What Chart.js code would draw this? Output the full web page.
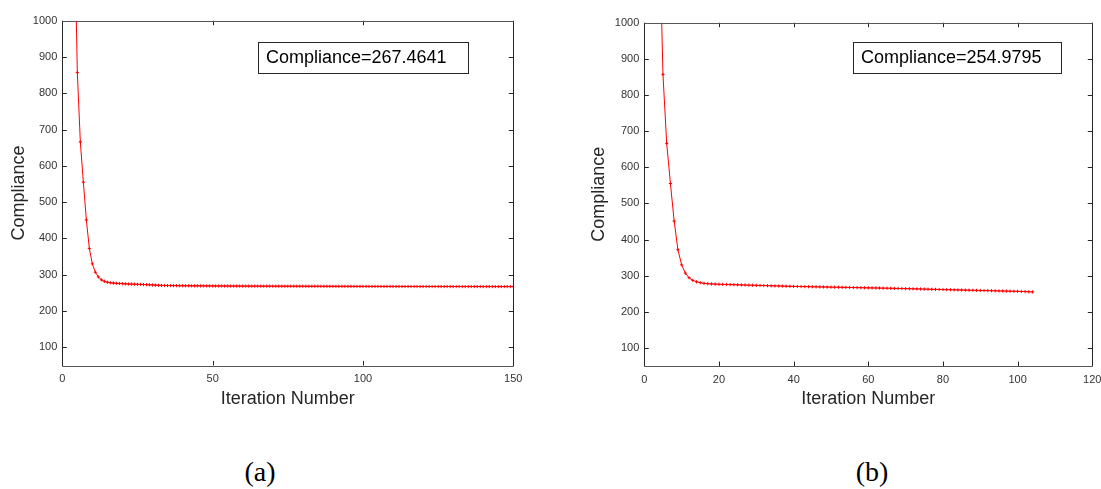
<!DOCTYPE html>
<html><head><meta charset="utf-8">
<script src="https://cdn.jsdelivr.net/npm/chart.js@4.4.0/dist/chart.umd.min.js"></script>
<style>
html,body{margin:0;padding:0;background:#fff;overflow:hidden;width:1101px;height:489px;}
#wrap{position:relative;width:1101px;height:489px;overflow:hidden;}
canvas{position:absolute;top:0;}
#c1{left:0;}
#c2{left:580px;}
.lab{position:absolute;top:455px;font-family:"Liberation Serif","Times New Roman",serif;font-size:28px;line-height:34px;color:#000;transform:translateX(-50%);}
</style></head>
<body>
<div id="wrap">
<canvas id="c1" width="560" height="420"></canvas>
<canvas id="c2" width="540" height="420"></canvas>
<div class="lab" style="left:260px;">(a)</div>
<div class="lab" style="left:872px;">(b)</div>
</div>
<script>
// ---- data ----
const complianceA = [
 3600, 2400, 1700, 1280, 857, 666, 555, 451, 372, 330,
 307, 294, 286, 282, 279.5, 278, 277.2, 276.5, 275.9, 275.4,
 275.0, 274.6, 274.3, 274.0, 273.7, 273.4, 273.1, 272.8, 272.4, 271.9,
 271.4, 271.0, 270.7, 270.5, 270.3, 270.2, 270.1, 270.0, 269.9, 269.8,
 269.7, 269.6, 269.55, 269.5, 269.45, 269.4, 269.35, 269.3, 269.25, 269.2,
 269.15, 269.1, 269.06, 269.02, 268.98, 268.94, 268.9, 268.87, 268.84, 268.81,
 268.78, 268.75, 268.72, 268.69, 268.66, 268.63, 268.6, 268.58, 268.56, 268.54,
 268.52, 268.5, 268.48, 268.46, 268.44, 268.42, 268.4, 268.38, 268.36, 268.34,
 268.32, 268.3, 268.28, 268.26, 268.24, 268.22, 268.2, 268.18, 268.16, 268.14,
 268.12, 268.1, 268.08, 268.06, 268.04, 268.02, 268.0, 267.98, 267.96, 267.94,
 267.92, 267.9, 267.88, 267.86, 267.85, 267.84, 267.83, 267.82, 267.81, 267.8,
 267.79, 267.78, 267.77, 267.76, 267.75, 267.74, 267.73, 267.72, 267.71, 267.7,
 267.69, 267.68, 267.67, 267.66, 267.65, 267.64, 267.63, 267.62, 267.61, 267.6,
 267.59, 267.58, 267.57, 267.56, 267.55, 267.54, 267.53, 267.52, 267.51, 267.5,
 267.5, 267.49, 267.49, 267.48, 267.48, 267.48, 267.47, 267.47, 267.47, 267.4641
];
const complianceB = [
 3600, 2400, 1700, 1280, 857, 666, 555, 451, 372, 330,
 307, 294, 287, 283, 280.5, 278.8, 277.8, 277.1, 276.6, 276.2,
 275.9, 275.6, 275.3, 275.0, 274.7, 274.4, 274.1, 273.8, 273.5, 273.2,
 272.9, 272.6, 272.3, 272.0, 271.7, 271.4, 271.1, 270.8, 270.5, 270.3,
 270.1, 269.9, 269.7, 269.5, 269.3, 269.1, 268.9, 268.7, 268.5, 268.3,
 268.1, 267.9, 267.7, 267.5, 267.3, 267.1, 266.9, 266.7, 266.5, 266.3,
 266.1, 265.9, 265.7, 265.5, 265.3, 265.05, 264.8, 264.55, 264.3, 264.05,
 263.8, 263.55, 263.3, 263.05, 262.8, 262.55, 262.3, 262.05, 261.8, 261.55,
 261.3, 261.05, 260.8, 260.55, 260.3, 260.05, 259.8, 259.55, 259.3, 259.05,
 258.8, 258.55, 258.3, 258.05, 257.8, 257.55, 257.3, 257.05, 256.8, 256.55,
 256.3, 255.9, 255.4, 254.9795
];
const xTicksA = [0, 50, 100, 150];
const xTicksB = [0, 20, 40, 60, 80, 100, 120];
const yTicks = [100, 200, 300, 400, 500, 600, 700, 800, 900, 1000];
const yRange = [50, 1000];
const boxTextA = 'Compliance=267.4641';
const boxTextB = 'Compliance=254.9795';
const yTitle = 'Compliance';
const xTitle = 'Iteration Number';

const SANS = '"Liberation Sans", Arial, Helvetica, sans-serif';

const framePlugin = {
  id: 'frame',
  afterDraw(chart) {
    const ctx = chart.ctx;
    const {left, right, top, bottom} = chart.chartArea;
    const xs = chart.scales.x, ys = chart.scales.y;
    const o = chart.options.plugins.frame;
    ctx.save();
    ctx.lineWidth = 1;
    ctx.strokeStyle = '#262626';
    const tl = 4.5;
    ctx.beginPath();
    xs.ticks.forEach(t => {
      const px = Math.round(xs.getPixelForValue(t.value)) + 0.5;
      ctx.moveTo(px, bottom); ctx.lineTo(px, bottom - tl);
      ctx.moveTo(px, top); ctx.lineTo(px, top + tl);
    });
    ys.ticks.forEach(t => {
      const py = Math.round(ys.getPixelForValue(t.value)) + 0.5;
      ctx.moveTo(left, py); ctx.lineTo(left + tl, py);
      ctx.moveTo(right, py); ctx.lineTo(right - tl, py);
    });
    ctx.stroke();
    const L = Math.round(left) + 0.5, R = Math.round(right) + 0.5, T = Math.round(top) + 0.5, B = Math.round(bottom) + 0.5;
    ctx.strokeStyle = '#262626';
    ctx.beginPath(); ctx.moveTo(L, T); ctx.lineTo(L, B); ctx.moveTo(R, T); ctx.lineTo(R, B); ctx.stroke();
    ctx.strokeStyle = '#555';
    ctx.beginPath(); ctx.moveTo(L, T); ctx.lineTo(R, T); ctx.moveTo(L, B); ctx.lineTo(R, B); ctx.stroke();
    const b = o.box;
    ctx.fillStyle = '#fff';
    ctx.fillRect(b.x, b.y, b.w, b.h);
    ctx.strokeStyle = '#262626';
    ctx.strokeRect(b.x + 0.5, b.y + 0.5, b.w, b.h);
    ctx.fillStyle = '#000';
    ctx.font = '18px ' + SANS;
    ctx.textBaseline = 'middle';
    ctx.textAlign = 'left';
    ctx.fillText(o.text, b.x + 8, b.y + b.h / 2 + 1);
    ctx.restore();
  }
};

function makeChart(id, values, xMax, xTicks, g, text) {
  const pts = values.map((v, i) => ({x: i + 1, y: v}));
  return new Chart(document.getElementById(id), {
    type: 'line',
    data: { datasets: [{
      data: pts,
      borderColor: '#ff0000',
      borderWidth: 1,
      pointStyle: 'cross',
      pointRadius: 1.6,
      pointBorderWidth: 1,
      pointBorderColor: '#ff0000',
      pointBackgroundColor: '#ff0000',
      tension: 0,
      fill: false,
      clip: 0
    }]},
    options: {
      responsive: false,
      animation: false,
      events: [],
      layout: { padding: { left: 0, right: g.padR, top: g.padT, bottom: 0 } },
      plugins: {
        legend: { display: false },
        tooltip: { enabled: false },
        frame: { box: g.box, text: text }
      },
      scales: {
        x: {
          type: 'linear', min: 0, max: xMax,
          afterBuildTicks: s => { s.ticks = xTicks.map(v => ({value: v})); },
          afterFit: s => { s.height = g.xH; },
          grid: { display: false, drawTicks: false },
          border: { display: false },
          ticks: { font: { family: SANS, size: 11 }, color: '#333', padding: 7, maxRotation: 0, callback: v => String(v) },
          title: { display: true, text: xTitle, font: { family: SANS, size: 18 }, color: '#262626', padding: { top: 0, bottom: 10 } }
        },
        y: {
          type: 'linear', min: yRange[0], max: yRange[1],
          afterBuildTicks: s => { s.ticks = yTicks.map(v => ({value: v})); },
          afterFit: s => { s.width = g.yW; },
          grid: { display: false, drawTicks: false },
          border: { display: false },
          ticks: { font: { family: SANS, size: 11 }, color: '#333', padding: 5, callback: v => String(v) },
          title: { display: true, text: yTitle, font: { family: SANS, size: 18 }, color: '#262626', padding: { top: 8, bottom: 0 } }
        }
      }
    },
    plugins: [framePlugin]
  });
}

makeChart('c1', complianceA, 150, xTicksA,
  { padR: 46.7, padT: 20.7, xH: 54.5, yW: 62.3, box: {x: 258, y: 42, w: 210, h: 31} }, boxTextA);
makeChart('c2', complianceB, 120, xTicksB,
  { padR: 27.7, padT: 22.7, xH: 54, yW: 64.3, box: {x: 273, y: 42, w: 208, h: 31} }, boxTextB);
</script>
</body></html>
